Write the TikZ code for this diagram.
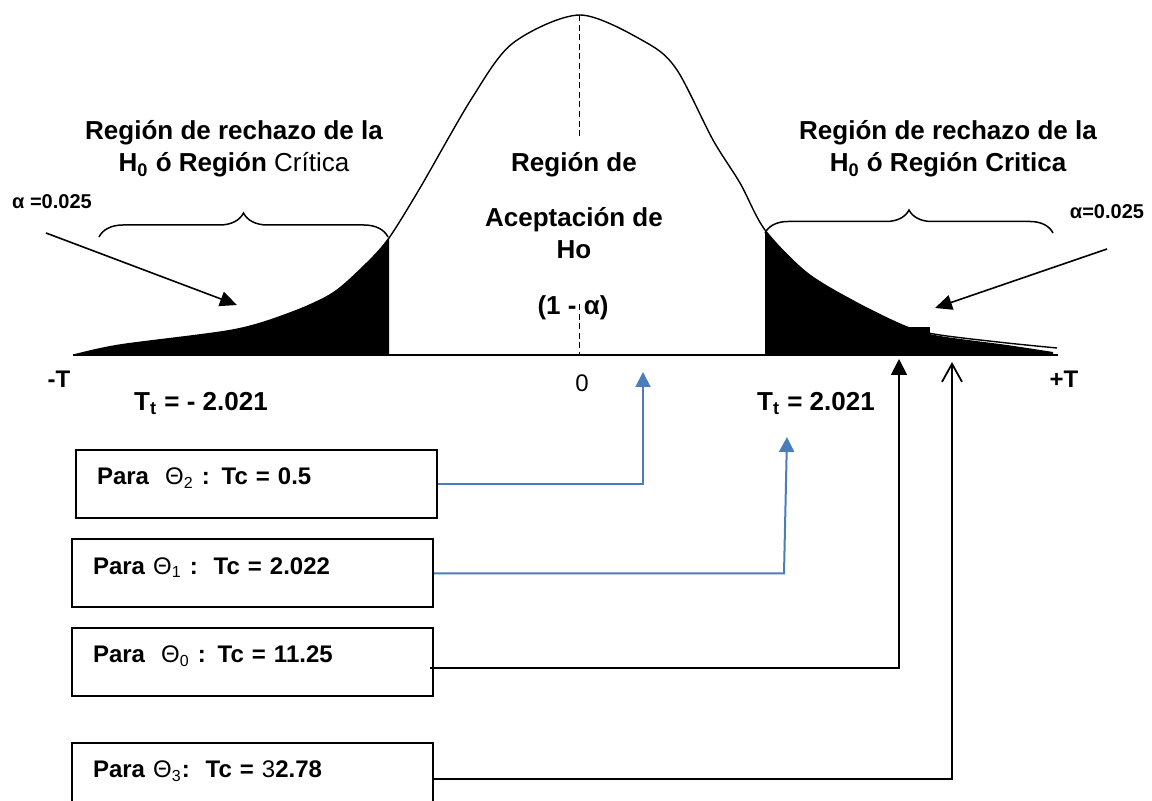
\documentclass[tikz,border=0pt]{standalone}
\usepackage{fontspec}
\setmainfont{Liberation Sans}
\usetikzlibrary{arrows.meta,decorations.pathreplacing}
\definecolor{lineblue}{RGB}{74,126,187}
\tikzset{
  lbl/.style={font=\fontsize{13}{16}\selectfont\bfseries},
  axlab/.style={font=\fontsize{12}{14}\selectfont\bfseries},
  alab/.style={font=\fontsize{10}{12}\selectfont\bfseries},
  tcbox/.style={draw,line width=1pt,minimum height=34pt,text width=159.5pt,inner xsep=10.5pt,
    align=left,text height=9pt,text depth=8.4pt,font=\fontsize{12}{14}\selectfont},
  brace/.style={decorate,decoration={brace,amplitude=12pt},line width=0.75pt},
  bluearrow/.style={lineblue,line width=1pt,-{Triangle[length=7.5pt,width=7.5pt]}},
  blkarrow/.style={line width=0.9pt,-{Triangle[length=8pt,width=8pt]}},
  openarrow/.style={line width=0.9pt,-{Straight Barb[length=9pt,width=10pt]}},
  alarrow/.style={line width=0.8pt,-{Triangle[length=8.5pt,width=7.5pt]}}
}
\begin{document}
\begin{tikzpicture}[x=0.5pt,y=-0.5pt]
  \useasboundingbox (0,0) rectangle (1152,801);
  % rejection tails
  \fill plot[smooth] coordinates {(74,355) (120,345) (233,330) (290,313) (333,293) (367,263) (389,238)} -- (389,355) -- cycle;
  \fill (765,355) -- plot[smooth] coordinates {(765,231) (807,273) (857,303) (907,327) (940,336) (1007,345) (1053,352)} -- (1053,355) -- cycle;
  \fill (906,327) rectangle (930,342);
  % curve, axis, centre line
  \draw[line width=0.7pt] plot[smooth] coordinates {(74,355) (120,345) (233,330) (290,313) (333,293) (367,263) (389,238) (420,188) (472,98) (513,43) (580,15) (647,43) (677,70) (713,140) (740,183) (765,230) (807,273) (857,303) (907,327) (940,335) (1007,343) (1057,348)};
  \draw[line width=1pt] (73,355) -- (1058,355);
  \draw[line width=0.5pt,dash pattern=on 3pt off 1.8pt] (579,15) -- (579,137) (579,304) -- (579,355);
  \draw[brace] (99,237) -- (388,237);
  \draw[brace,decoration={amplitude=11.5pt}] (765,233) -- (1053,233);

  \node[lbl,align=center] (rejl) at (234,149) {Región de rechazo de la\\H\textsubscript{0} ó Región \textmd{Crítica}};
  \node[lbl,align=center] (rejr) at (948,149) {Región de rechazo de la\\H\textsubscript{0} ó Región Critica};
  \node[lbl,anchor=base] (acc1) at (574,172) {Región de};
  \node[lbl,anchor=base] (acc2) at (574,227) {Aceptación de};
  \node[lbl,anchor=base] (acc3) at (574,259) {Ho};
  \node[lbl,anchor=base] (conf) at (573,315) {(1 - α)};
  \node[anchor=base,font=\fontsize{12}{14}\selectfont] (zero) at (582,392) {0};
  \node[axlab,anchor=base] (mT) at (59,388) {-T};
  \node[axlab,anchor=base] (pT) at (1064,388) {+T};
  \node[lbl,anchor=base] (ttl) at (201,411) {T\textsubscript{t} = - 2.021};
  \node[lbl,anchor=base] (ttr) at (816,411) {T\textsubscript{t} = 2.021};
  \node[alab,anchor=base] (al) at (52,209) {α =0.025};
  \node[alab,anchor=base] (ar) at (1107,219) {α=0.025};

  \coordinate (al0) at (46,233);
  \coordinate (al1) at (237,305);
  \coordinate (ar0) at (1107,249);
  \coordinate (ar1) at (935,308);
  \draw[alarrow] (al0) -- (al1);
  \draw[alarrow] (ar0) -- (ar1);

  % Tc boxes
  \foreach \n/\x/\y/\t in {2/256.5/484/{\textbf{Para}\ \ Θ\textsubscript{2}\textbf{ : Tc = 0.5}},
      1/252.5/573.5/{\textbf{Para} Θ\textsubscript{1}\textbf{ :\ \ Tc = 2.022}},
      0/252.5/662/{\textbf{Para}\ \ Θ\textsubscript{0}\textbf{ : Tc = 11.25}},
      3/252.5/777/{\textbf{Para} Θ\textsubscript{3}\textbf{:\ \ Tc = }3\textbf{2.78}}}
    \node[tcbox] (t\n) at (\x,\y) {\t};

  \coordinate (p2) at (643,372);
  \coordinate (p1) at (787,437);
  \coordinate (p0) at (899,359);
  \coordinate (p3) at (952,362);
  \draw[bluearrow] (t2.east) -| (p2);
  \draw[bluearrow] (t1.east) -- ++(350,0) -- (p1);
  \draw[blkarrow] ([xshift=-2pt,yshift=-3pt]t0.east) -| (p0);
  \draw[openarrow] ([yshift=-1pt]t3.east) -| (p3);
\end{tikzpicture}
\end{document}
